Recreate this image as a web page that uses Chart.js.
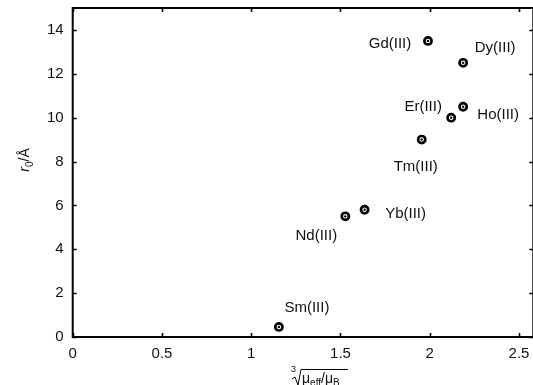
<!DOCTYPE html>
<html><head><meta charset="utf-8">
<script src="https://cdn.jsdelivr.net/npm/chart.js@4/dist/chart.umd.min.js"></script>
<style>html,body{margin:0;padding:0;background:#fff;overflow:hidden;width:533px;height:385px}#wrap{width:540px;height:385px;position:relative}</style>
</head><body><div id="wrap"><canvas id="c" width="540" height="385"></canvas></div>
<script>
// Data
const ions = ['Gd(III)','Dy(III)','Ho(III)','Er(III)','Tm(III)','Yb(III)','Nd(III)','Sm(III)'];
const muRoot = [1.99, 2.187, 2.187, 2.12, 1.955, 1.635, 1.527, 1.155];
const r0 = [13.5, 12.5, 10.5, 10.0, 9.0, 5.8, 5.5, 0.46];
const xTicks = [0, 0.5, 1, 1.5, 2, 2.5];
const yTicks = [0, 2, 4, 6, 8, 10, 12, 14];

const pts = ions.map((n, i) => ({x: muRoot[i], y: r0[i], label: n}));
const FONT = '"Liberation Sans", Arial, Helvetica, sans-serif';

// label offsets relative to marker (layout only)
const labelOffset = {
  'Gd(III)': [-38, 3], 'Dy(III)': [32, -15], 'Ho(III)': [35, 8], 'Er(III)': [-28, -11],
  'Tm(III)': [-6, 27], 'Yb(III)': [41, 4], 'Nd(III)': [-29, 19], 'Sm(III)': [28, -19]
};

const framePlugin = {
  id: 'frame',
  afterDraw(chart) {
    const ctx = chart.ctx, a = chart.chartArea;
    const xs = chart.scales.x, ys = chart.scales.y;
    ctx.save();
    ctx.strokeStyle = '#000';
    ctx.lineWidth = 2;
    ctx.strokeRect(a.left, a.top, a.right - a.left, a.bottom - a.top);
    ctx.lineWidth = 1.6;
    ctx.beginPath();
    const tl = 4;
    xTicks.forEach(v => {
      const px = Math.round(xs.getPixelForValue(v)) + 0.5;
      ctx.moveTo(px, a.bottom); ctx.lineTo(px, a.bottom - tl);
      ctx.moveTo(px, a.top); ctx.lineTo(px, a.top + tl);
    });
    yTicks.forEach(v => {
      const py = Math.round(ys.getPixelForValue(v)) + 0.5;
      ctx.moveTo(a.left, py); ctx.lineTo(a.left + tl, py);
      ctx.moveTo(a.right, py); ctx.lineTo(a.right - tl, py);
    });
    ctx.stroke();

    // point labels
    ctx.fillStyle = '#111';
    ctx.font = '15px ' + FONT;
    ctx.textAlign = 'center';
    ctx.textBaseline = 'middle';
    pts.forEach(p => {
      const o = labelOffset[p.label] || [0, 0];
      ctx.fillText(p.label, xs.getPixelForValue(p.x) + o[0], ys.getPixelForValue(p.y) + o[1]);
    });

    // y-axis title: r0/Å
    ctx.save();
    ctx.translate(29, 160);
    ctx.rotate(-Math.PI / 2);
    ctx.textAlign = 'left';
    ctx.textBaseline = 'alphabetic';
    ctx.font = 'italic 14px ' + FONT;
    const w1 = ctx.measureText('r').width;
    ctx.font = '10px ' + FONT;
    const wsub = ctx.measureText('0').width;
    ctx.font = '14px ' + FONT;
    const w2 = ctx.measureText('/Å').width;
    let x0 = -(w1 + wsub + w2) / 2;
    ctx.font = 'italic 14px ' + FONT; ctx.fillText('r', x0, 0); x0 += w1;
    ctx.font = '10px ' + FONT; ctx.fillText('0', x0, 4); x0 += wsub;
    ctx.font = '14px ' + FONT; ctx.fillText('/Å', x0, 0);
    ctx.restore();

    // x-axis title: cube root of mu_eff/mu_B
    ctx.save();
    ctx.textAlign = 'left';
    ctx.textBaseline = 'alphabetic';
    ctx.font = '9px ' + FONT;
    ctx.fillText('3', 291, 372);
    ctx.lineWidth = 1;
    ctx.beginPath();
    ctx.moveTo(292, 379); ctx.lineTo(295, 377); ctx.lineTo(298, 385);
    ctx.lineTo(301, 369.5); ctx.lineTo(348, 369.5);
    ctx.stroke();
    let xx = 302;
    ctx.font = '14px ' + FONT;
    ctx.fillText('μ', xx, 383); xx += ctx.measureText('μ').width;
    ctx.font = '10px ' + FONT;
    ctx.fillText('eff', xx, 386); xx += ctx.measureText('eff').width;
    ctx.font = '14px ' + FONT;
    ctx.fillText('/μ', xx, 383); xx += ctx.measureText('/μ').width;
    ctx.font = '10px ' + FONT;
    ctx.fillText('B', xx, 386);
    ctx.restore();
    ctx.restore();
  }
};

new Chart(document.getElementById('c'), {
  type: 'scatter',
  data: {
    datasets: [
      { data: pts, pointRadius: 1.2, pointBorderWidth: 0, pointBackgroundColor: '#000', showLine: false, order: 0 },
      { data: pts, pointRadius: 3.6, pointBorderWidth: 2.7, pointBorderColor: '#000', pointBackgroundColor: '#fff', showLine: false, order: 1 }
    ]
  },
  options: {
    responsive: false,
    animation: false,
    layout: { padding: { top: 8, left: 0, right: 0, bottom: 0 } },
    plugins: { legend: { display: false }, tooltip: { enabled: false } },
    scales: {
      x: {
        type: 'linear', min: 0, max: 2.58,
        afterBuildTicks: s => { s.ticks = xTicks.map(v => ({value: v})); },
        afterFit: s => { s.height = 48; s.paddingLeft = 0; s.paddingRight = 0; },
        grid: { display: false, drawTicks: false },
        border: { display: false },
        ticks: { color: '#111', font: { size: 15, family: FONT }, padding: 8, maxRotation: 0,
                 callback: v => String(v) }
      },
      y: {
        type: 'linear', min: 0, max: 15,
        afterBuildTicks: s => { s.ticks = yTicks.map(v => ({value: v})); },
        afterFit: s => { s.width = 72.7; s.paddingTop = 0; s.paddingBottom = 0; },
        grid: { display: false, drawTicks: false },
        border: { display: false },
        ticks: { color: '#111', font: { size: 15, family: FONT }, padding: 9 }
      }
    }
  },
  plugins: [framePlugin]
});
</script>
</body></html>
